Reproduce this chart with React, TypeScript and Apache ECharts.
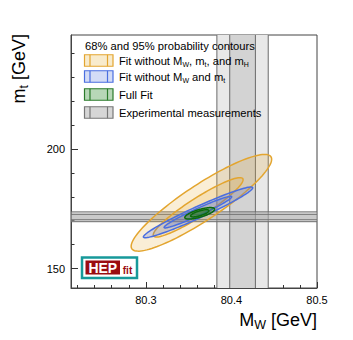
import React, { useEffect, useRef } from 'react';
import * as echarts from 'echarts';

const FONT = 'Liberation Sans, Arial, Helvetica, sans-serif';

// axis ticks
const xTickLabels = [80.3, 80.4, 80.5];
const xMinorTicks = [80.22, 80.24, 80.26, 80.28, 80.32, 80.34, 80.36, 80.38, 80.42, 80.44, 80.46, 80.48];
const yTickLabels = [150, 200];
const yMinorTicks = [160, 170, 180, 190, 210, 220, 230, 240];

// contours: [without MW,mt,mH 95%, 68%], [without MW,mt 95%, 68%], [full fit 95%, 68%]
const contourMW = [80.3649, 80.3611, 80.361, 80.3608, 80.363, 80.363];
const contourMt = [177.5, 175.6, 173.5, 173.6, 173.1, 173.1];
const contourHalfMW = [0.0821, 0.0525, 0.0639, 0.0395, 0.0175, 0.0107];
const contourHalfMt = [20.2, 12.4, 10.6, 6.6, 2.4, 1.5];
const contourRho = [0.9, 0.93, 0.968, 0.968, 0.72, 0.72];

// experimental measurements (band edges: outer low, inner low, inner high, outer high)
const mwBandEdges = [80.383, 80.398, 80.428, 80.443];
const mtBandEdges = [169.6, 170.4, 172.7, 173.7];

const legendLabels = [
  '{a|Fit without M}{s|W}{a|, m}{s|t}{a|, and m}{s|H}',
  '{a|Fit without M}{s|W}{a| and m}{s|t}',
  '{a|Full Fit}',
  '{a|Experimental measurements}',
];

const contourStroke = ['#e3a52f', '#e3a52f', '#4a6ee0', '#4a6ee0', '#0b6b0b', '#0b6b0b'];
const contourFill = [
  'rgba(228,170,50,0.2)', 'rgba(228,170,50,0.2)',
  'rgba(70,105,225,0.22)', 'rgba(70,105,225,0.22)',
  'rgba(20,120,20,0.35)', 'rgba(20,120,20,0.35)',
];
const legendFill = ['#f8ebcc', '#d4dcf6', '#b7d7b7', '#d6d6d6'];
const legendStroke = ['#e3a52f', '#4a6ee0', '#2b7b2b', '#777777'];
const legendY = [60.5, 76.5, 94.5, 112.5];

const BAND_OUTER = '#e8e8e8';
const BAND_INNER = '#d3d3d3';
const BAND_LINE = '#6a6a6a';

const rich = {
  a: { fontSize: 11.2, fontFamily: FONT, fill: '#000', lineHeight: 15 },
  s: { fontSize: 7, fontFamily: FONT, fill: '#000', padding: [7, 0, 0, 0] },
};

const titleRich = {
  b: { fontSize: 18, fontFamily: FONT, fill: '#000', lineHeight: 23 },
  s: { fontSize: 12.5, fontFamily: FONT, fill: '#000', padding: [9, 0, 0, 0] },
};

export default function App() {
  const ref = useRef<HTMLDivElement>(null);
  useEffect(() => {
    if (!ref.current) return;
    const chart = echarts.init(ref.current, undefined, { renderer: 'svg' });

    const contourData = contourMW.map((v, i) => [v, contourMt[i], contourHalfMW[i], contourHalfMt[i], contourRho[i]]);

    const legendGraphics: any[] = [];
    legendY.forEach((cy, i) => {
      legendGraphics.push({
        type: 'rect', z: 100, shape: { x: 84.5, y: cy - 5.75, width: 28.5, height: 11.5 },
        style: { fill: legendFill[i], stroke: legendStroke[i], lineWidth: 1.2 },
      });
      legendGraphics.push({
        type: 'line', z: 100, shape: { x1: 90, y1: cy - 5.75, x2: 90, y2: cy + 5.75 },
        style: { stroke: legendStroke[i], lineWidth: 1.2 },
      });
      legendGraphics.push({
        type: 'line', z: 100, shape: { x1: 107.5, y1: cy - 5.75, x2: 107.5, y2: cy + 5.75 },
        style: { stroke: legendStroke[i], lineWidth: 1.2 },
      });
      legendGraphics.push({
        type: 'text', z: 100, x: 119, y: cy,
        style: { text: legendLabels[i], rich, align: 'left', verticalAlign: 'middle' },
      });
    });

    const option: any = {
      animation: false,
      grid: {
        left: 71, right: 36, top: 35, bottom: 52,
        show: true, borderColor: '#444', borderWidth: 1, backgroundColor: 'transparent',
      },
      xAxis: [
        {
          type: 'value', min: 80.2125, max: 80.5, position: 'bottom',
          axisLine: { show: true, onZero: false, lineStyle: { color: '#444', width: 1 } },
          axisTick: { show: true, inside: true, length: 6, customValues: xTickLabels, lineStyle: { color: '#333' } },
          axisLabel: {
            show: true, customValues: xTickLabels, margin: 6, fontSize: 11, fontFamily: FONT, color: '#000',
            formatter: (v: number) => v.toFixed(1),
          },
          splitLine: { show: false },
        },
        {
          type: 'value', min: 80.2125, max: 80.5, position: 'bottom', offset: 0,
          axisLine: { show: false },
          axisTick: { show: true, inside: true, length: 3, customValues: xMinorTicks, lineStyle: { color: '#333' } },
          axisLabel: { show: false },
          splitLine: { show: false },
        },
      ],
      yAxis: [
        {
          type: 'value', min: 141.9, max: 247.6, position: 'left',
          axisLine: { show: true, onZero: false, lineStyle: { color: '#444', width: 1 } },
          axisTick: { show: true, inside: true, length: 7, customValues: yTickLabels, lineStyle: { color: '#333' } },
          axisLabel: { show: true, customValues: yTickLabels, margin: 6, fontSize: 11, fontFamily: FONT, color: '#000' },
          splitLine: { show: false },
        },
        {
          type: 'value', min: 141.9, max: 247.6, position: 'left', offset: 0,
          axisLine: { show: false },
          axisTick: { show: true, inside: true, length: 3.5, customValues: yMinorTicks, lineStyle: { color: '#333' } },
          axisLabel: { show: false },
          splitLine: { show: false },
        },
      ],
      series: [
        {
          type: 'custom', xAxisIndex: 0, yAxisIndex: 0, z: 1, silent: true,
          data: [[0]],
          renderItem: (params: any, api: any) => {
            const cs = params.coordSys;
            const xs = mwBandEdges.map((e) => api.coord([e, 200])[0]);
            const ys = mtBandEdges.map((e) => api.coord([80.4, e])[1]);
            const top = cs.y, bot = cs.y + cs.height, left = cs.x, right = cs.x + cs.width;
            const lineV = (x: number) => ({ type: 'line', shape: { x1: x, y1: top, x2: x, y2: bot }, style: { stroke: BAND_LINE, lineWidth: 1 } });
            const lineH = (y: number) => ({ type: 'line', shape: { x1: left, y1: y, x2: right, y2: y }, style: { stroke: BAND_LINE, lineWidth: 1 } });
            return {
              type: 'group',
              children: [
                { type: 'rect', shape: { x: xs[0], y: top, width: xs[3] - xs[0], height: bot - top }, style: { fill: BAND_OUTER } },
                { type: 'rect', shape: { x: xs[1], y: top, width: xs[2] - xs[1], height: bot - top }, style: { fill: BAND_INNER } },
                lineV(xs[0]), lineV(xs[1]), lineV(xs[2]), lineV(xs[3]),
                { type: 'rect', shape: { x: left, y: ys[3], width: right - left, height: ys[0] - ys[3] }, style: { fill: 'rgba(200,200,200,0.45)' } },
                { type: 'rect', shape: { x: left, y: ys[2], width: right - left, height: ys[1] - ys[2] }, style: { fill: 'rgba(150,150,150,0.35)' } },
                lineH(ys[0]), lineH(ys[1]), lineH(ys[2]), lineH(ys[3]),
              ],
            };
          },
        },
        {
          type: 'custom', xAxisIndex: 0, yAxisIndex: 0, z: 2, silent: true,
          data: contourData,
          renderItem: (params: any, api: any) => {
            const i = params.dataIndex;
            const cx = api.value(0), cy = api.value(1), sx = api.value(2), sy = api.value(3), rho = api.value(4);
            const phi = Math.acos(rho);
            const pts: number[][] = [];
            const n = 120;
            for (let k = 0; k < n; k++) {
              const t = (2 * Math.PI * k) / n;
              pts.push(api.coord([cx + sx * Math.cos(t), cy + sy * Math.cos(t - phi)]));
            }
            return {
              type: 'polygon', shape: { points: pts },
              style: { fill: contourFill[i], stroke: contourStroke[i], lineWidth: 1.5 },
            };
          },
        },
      ],
      graphic: [
        {
          type: 'text', z: 100, x: 85, y: 46,
          style: { text: '68% and 95% probability contours', fontSize: 11.2, fontFamily: FONT, fill: '#000', align: 'left', verticalAlign: 'middle' },
        },
        ...legendGraphics,
        // HEPfit logo
        { type: 'rect', z: 100, shape: { x: 82, y: 257.5, width: 55, height: 20.5 }, style: { fill: '#fff', stroke: '#17999a', lineWidth: 2.5 } },
        { type: 'rect', z: 101, shape: { x: 85.5, y: 260.5, width: 34.5, height: 14 }, style: { fill: '#9a0c10' } },
        { type: 'text', z: 102, x: 102.8, y: 267.8, style: { text: 'HEP', fontSize: 14, fontWeight: 'bold', fontFamily: FONT, fill: '#fff', align: 'center', verticalAlign: 'middle' } },
        { type: 'text', z: 102, x: 127.5, y: 270, style: { text: 'fit', fontSize: 10, fontWeight: 'bold', fontFamily: FONT, fill: '#9a0c10', align: 'center', verticalAlign: 'middle' } },
        // axis titles
        {
          type: 'text', z: 100, x: 317, y: 320,
          style: { text: '{b|M}{s|W}{b| [GeV]}', align: 'right', verticalAlign: 'middle', rich: titleRich },
        },
        {
          type: 'text', z: 100, x: 19, y: 34, rotation: Math.PI / 2,
          style: { text: '{b|m}{s|t}{b| [GeV]}', align: 'right', verticalAlign: 'middle', rich: titleRich },
        },
      ],
    };
    chart.setOption(option);
    return () => chart.dispose();
  }, []);
  return <div ref={ref} style={{ width: 353, height: 340, position: 'absolute', left: 0, top: 0 }} />;
}
